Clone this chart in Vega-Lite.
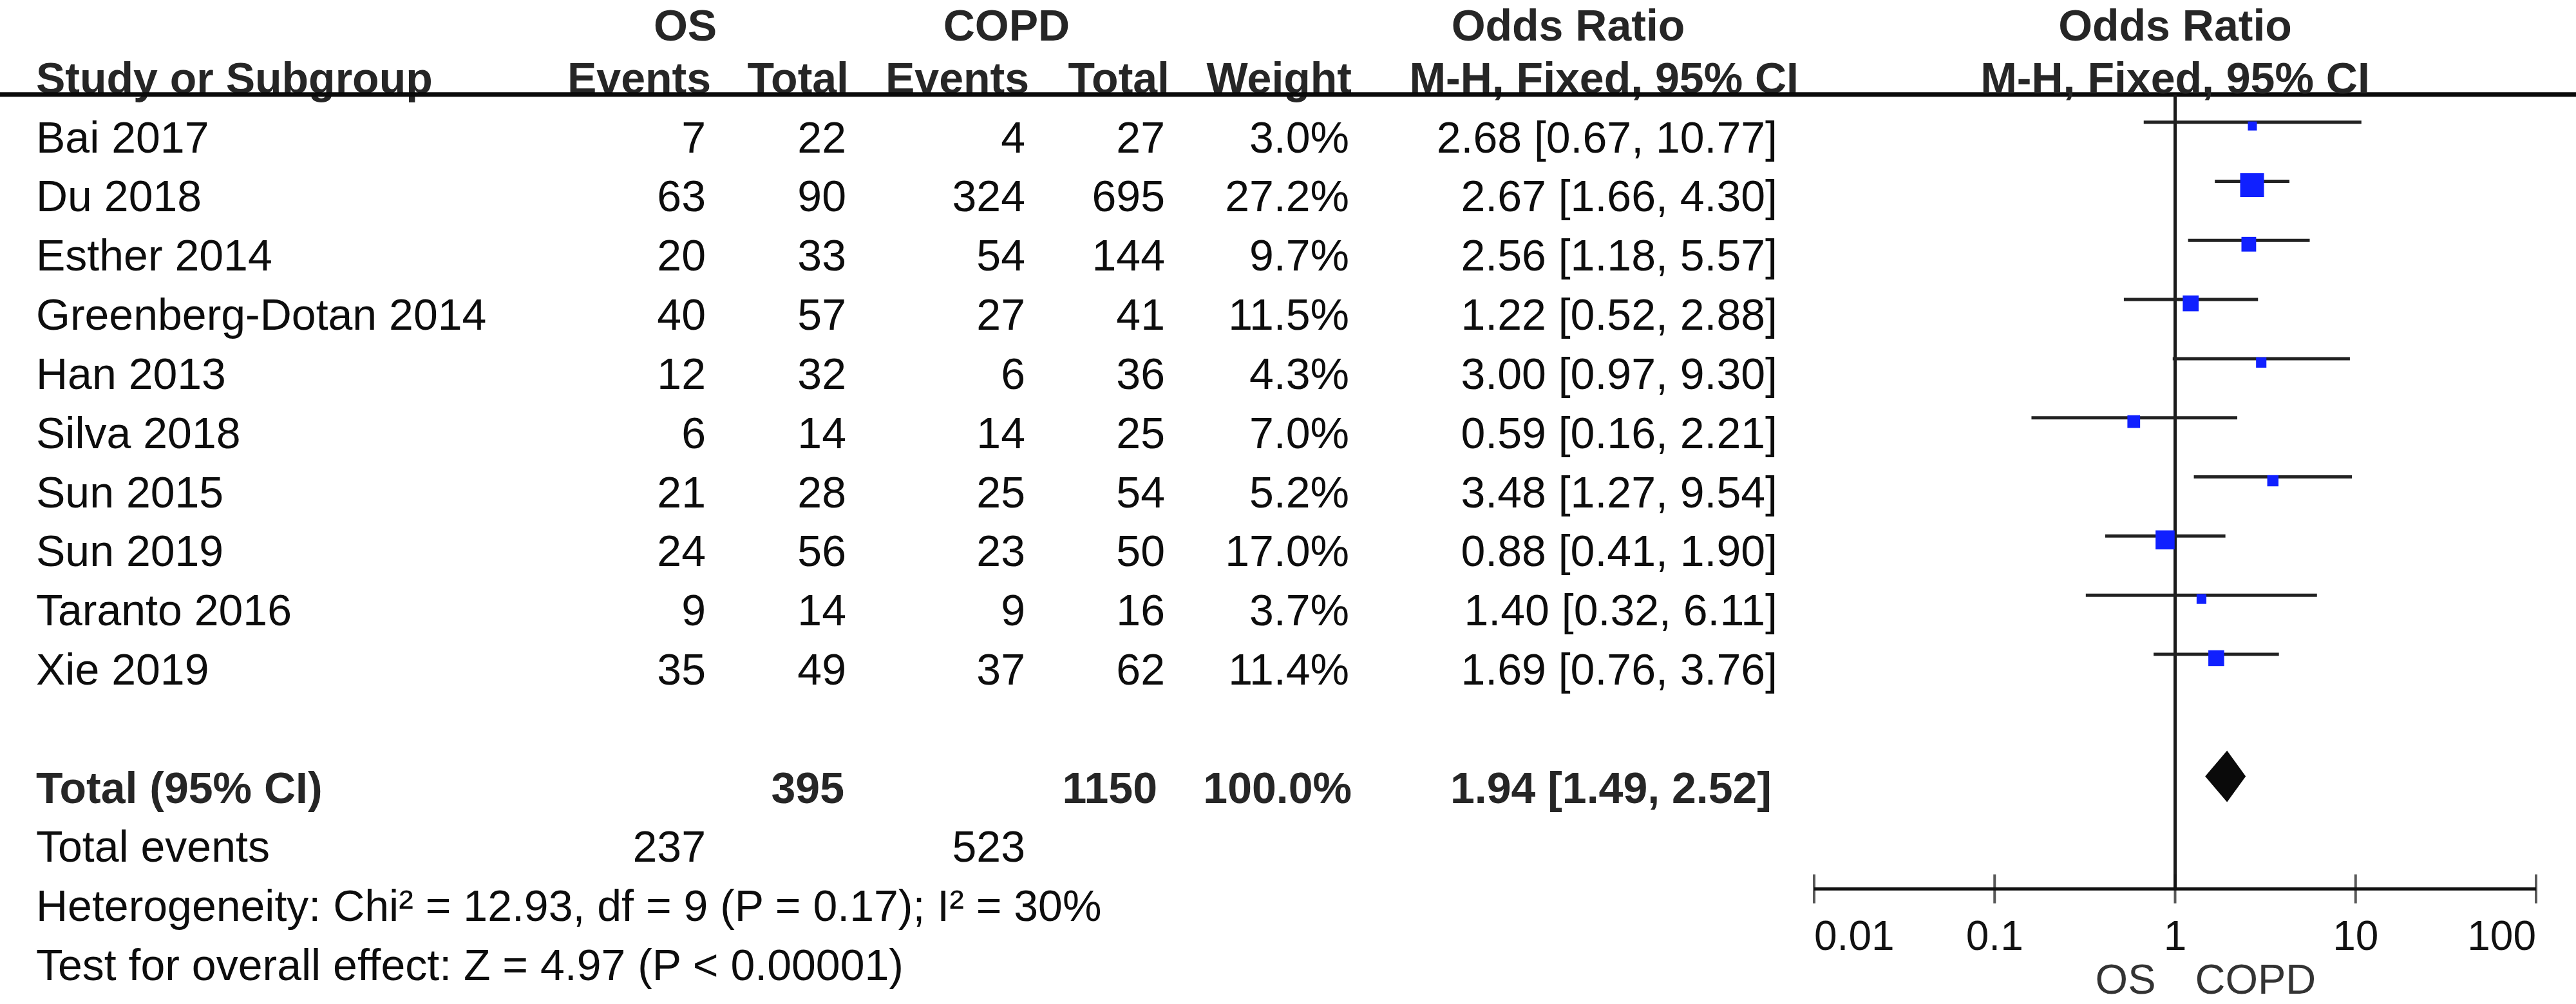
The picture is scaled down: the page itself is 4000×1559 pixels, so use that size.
{
  "$schema": "https://vega.github.io/schema/vega-lite/v6.json",
  "width": 4000,
  "height": 1469,
  "autosize": {"type": "none"},
  "padding": {"left": 0, "right": 0, "top": 53, "bottom": 37},
  "background": "white",
  "config": {
    "view": {"stroke": null},
    "text": {"font": "Liberation Sans", "fontSize": 68, "baseline": "alphabetic", "color": "#0d0d0d"}
  },
  "data": {
    "values": [
      {"key": "Bai 2017", "label": "Bai 2017", "kind": "study", "os_e": 7, "os_n": 22, "copd_e": 4, "copd_n": 27, "weight": 0.030, "or": 2.68, "lo": 0.67, "hi": 10.77, "ci": "2.68 [0.67, 10.77]"},
      {"key": "Du 2018", "label": "Du 2018", "kind": "study", "os_e": 63, "os_n": 90, "copd_e": 324, "copd_n": 695, "weight": 0.272, "or": 2.67, "lo": 1.66, "hi": 4.30, "ci": "2.67 [1.66, 4.30]"},
      {"key": "Esther 2014", "label": "Esther 2014", "kind": "study", "os_e": 20, "os_n": 33, "copd_e": 54, "copd_n": 144, "weight": 0.097, "or": 2.56, "lo": 1.18, "hi": 5.57, "ci": "2.56 [1.18, 5.57]"},
      {"key": "Greenberg-Dotan 2014", "label": "Greenberg-Dotan 2014", "kind": "study", "os_e": 40, "os_n": 57, "copd_e": 27, "copd_n": 41, "weight": 0.115, "or": 1.22, "lo": 0.52, "hi": 2.88, "ci": "1.22 [0.52, 2.88]"},
      {"key": "Han 2013", "label": "Han 2013", "kind": "study", "os_e": 12, "os_n": 32, "copd_e": 6, "copd_n": 36, "weight": 0.043, "or": 3.00, "lo": 0.97, "hi": 9.30, "ci": "3.00 [0.97, 9.30]"},
      {"key": "Silva 2018", "label": "Silva 2018", "kind": "study", "os_e": 6, "os_n": 14, "copd_e": 14, "copd_n": 25, "weight": 0.070, "or": 0.59, "lo": 0.16, "hi": 2.21, "ci": "0.59 [0.16, 2.21]"},
      {"key": "Sun 2015", "label": "Sun 2015", "kind": "study", "os_e": 21, "os_n": 28, "copd_e": 25, "copd_n": 54, "weight": 0.052, "or": 3.48, "lo": 1.27, "hi": 9.54, "ci": "3.48 [1.27, 9.54]"},
      {"key": "Sun 2019", "label": "Sun 2019", "kind": "study", "os_e": 24, "os_n": 56, "copd_e": 23, "copd_n": 50, "weight": 0.170, "or": 0.88, "lo": 0.41, "hi": 1.90, "ci": "0.88 [0.41, 1.90]"},
      {"key": "Taranto 2016", "label": "Taranto 2016", "kind": "study", "os_e": 9, "os_n": 14, "copd_e": 9, "copd_n": 16, "weight": 0.037, "or": 1.40, "lo": 0.32, "hi": 6.11, "ci": "1.40 [0.32, 6.11]"},
      {"key": "Xie 2019", "label": "Xie 2019", "kind": "study", "os_e": 35, "os_n": 49, "copd_e": 37, "copd_n": 62, "weight": 0.114, "or": 1.69, "lo": 0.76, "hi": 3.76, "ci": "1.69 [0.76, 3.76]"},
      {"key": "total", "label": "Total (95% CI)", "kind": "total", "os_n": 395, "copd_n": 1150, "weight": 1.0, "or": 1.94, "lo": 1.49, "hi": 2.52, "ci": "1.94 [1.49, 2.52]"},
      {"key": "events", "label": "Total events", "kind": "events", "os_e": 237, "copd_e": 523},
      {"key": "het", "label": "Heterogeneity: Chi² = 12.93, df = 9 (P = 0.17); I² = 30%", "kind": "note"},
      {"key": "test", "label": "Test for overall effect: Z = 4.97 (P < 0.00001)", "kind": "note"}
    ]
  },
  "encoding": {
    "y": {
      "field": "key", "type": "nominal", "axis": null,
      "scale": {"type": "point", "padding": 0, "domain": ["hdr1", "hdr2", "Bai 2017", "Du 2018", "Esther 2014", "Greenberg-Dotan 2014", "Han 2013", "Silva 2018", "Sun 2015", "Sun 2019", "Taranto 2016", "Xie 2019", "gap", "total", "events", "het", "test"]}
    }
  },
  "resolve": {"scale": {"x": "independent"}},
  "layer": [
    {
      "layer": [
        {"transform": [{"filter": "datum.kind != 'total'"}], "mark": {"type": "text", "align": "left"},
         "encoding": {"x": {"datum": 56, "type": "quantitative", "scale": {"domain": [0, 4000], "nice": false, "zero": false}, "axis": null}, "text": {"field": "label"}}},
        {"transform": [{"filter": "datum.kind == 'total'"}], "mark": {"type": "text", "align": "left", "fontWeight": "bold", "color": "#262626"},
         "encoding": {"x": {"datum": 56, "type": "quantitative", "scale": {"domain": [0, 4000], "nice": false, "zero": false}, "axis": null}, "text": {"field": "label"}}},
        {"transform": [{"filter": "isValid(datum.os_e)"}], "mark": {"type": "text", "align": "right"},
         "encoding": {"x": {"datum": 1096, "type": "quantitative", "scale": {"domain": [0, 4000], "nice": false, "zero": false}, "axis": null}, "text": {"field": "os_e", "type": "quantitative", "format": "d"}}},
        {"transform": [{"filter": "datum.kind == 'study'"}], "mark": {"type": "text", "align": "right"},
         "encoding": {"x": {"datum": 1314, "type": "quantitative", "scale": {"domain": [0, 4000], "nice": false, "zero": false}, "axis": null}, "text": {"field": "os_n", "type": "quantitative", "format": "d"}}},
        {"transform": [{"filter": "datum.kind == 'total'"}], "mark": {"type": "text", "align": "right", "fontWeight": "bold", "color": "#262626"},
         "encoding": {"x": {"datum": 1311, "type": "quantitative", "scale": {"domain": [0, 4000], "nice": false, "zero": false}, "axis": null}, "text": {"field": "os_n", "type": "quantitative", "format": "d"}}},
        {"transform": [{"filter": "isValid(datum.copd_e)"}], "mark": {"type": "text", "align": "right"},
         "encoding": {"x": {"datum": 1592, "type": "quantitative", "scale": {"domain": [0, 4000], "nice": false, "zero": false}, "axis": null}, "text": {"field": "copd_e", "type": "quantitative", "format": "d"}}},
        {"transform": [{"filter": "datum.kind == 'study'"}], "mark": {"type": "text", "align": "right"},
         "encoding": {"x": {"datum": 1809, "type": "quantitative", "scale": {"domain": [0, 4000], "nice": false, "zero": false}, "axis": null}, "text": {"field": "copd_n", "type": "quantitative", "format": "d"}}},
        {"transform": [{"filter": "datum.kind == 'total'"}], "mark": {"type": "text", "align": "right", "fontWeight": "bold", "color": "#262626"},
         "encoding": {"x": {"datum": 1797, "type": "quantitative", "scale": {"domain": [0, 4000], "nice": false, "zero": false}, "axis": null}, "text": {"field": "copd_n", "type": "quantitative", "format": "d"}}},
        {"transform": [{"filter": "datum.kind == 'study'"}], "mark": {"type": "text", "align": "right"},
         "encoding": {"x": {"datum": 2095, "type": "quantitative", "scale": {"domain": [0, 4000], "nice": false, "zero": false}, "axis": null}, "text": {"field": "weight", "type": "quantitative", "format": ".1%"}}},
        {"transform": [{"filter": "datum.kind == 'total'"}], "mark": {"type": "text", "align": "right", "fontWeight": "bold", "color": "#262626"},
         "encoding": {"x": {"datum": 2099, "type": "quantitative", "scale": {"domain": [0, 4000], "nice": false, "zero": false}, "axis": null}, "text": {"field": "weight", "type": "quantitative", "format": ".1%"}}},
        {"transform": [{"filter": "datum.kind == 'study'"}], "mark": {"type": "text", "align": "right"},
         "encoding": {"x": {"datum": 2760, "type": "quantitative", "scale": {"domain": [0, 4000], "nice": false, "zero": false}, "axis": null}, "text": {"field": "ci"}}},
        {"transform": [{"filter": "datum.kind == 'total'"}], "mark": {"type": "text", "align": "right", "fontWeight": "bold", "color": "#262626"},
         "encoding": {"x": {"datum": 2751, "type": "quantitative", "scale": {"domain": [0, 4000], "nice": false, "zero": false}, "axis": null}, "text": {"field": "ci"}}},
        {"data": {"values": [{"t": "OS"}]}, "mark": {"type": "text", "align": "center", "fontWeight": "bold", "color": "#262626", "dy": 10},
         "encoding": {"x": {"datum": 1064, "type": "quantitative", "scale": {"domain": [0, 4000], "nice": false, "zero": false}, "axis": null}, "y": {"datum": "hdr1", "type": "nominal"}, "text": {"field": "t"}}},
        {"data": {"values": [{"t": "COPD"}]}, "mark": {"type": "text", "align": "center", "fontWeight": "bold", "color": "#262626", "dy": 10},
         "encoding": {"x": {"datum": 1563, "type": "quantitative", "scale": {"domain": [0, 4000], "nice": false, "zero": false}, "axis": null}, "y": {"datum": "hdr1", "type": "nominal"}, "text": {"field": "t"}}},
        {"data": {"values": [{"t": "Odds Ratio"}]}, "mark": {"type": "text", "align": "center", "fontWeight": "bold", "color": "#262626", "dy": 10},
         "encoding": {"x": {"datum": 2435, "type": "quantitative", "scale": {"domain": [0, 4000], "nice": false, "zero": false}, "axis": null}, "y": {"datum": "hdr1", "type": "nominal"}, "text": {"field": "t"}}},
        {"data": {"values": [{"t": "Study or Subgroup"}]}, "mark": {"type": "text", "align": "left", "fontWeight": "bold", "color": "#262626"},
         "encoding": {"x": {"datum": 56, "type": "quantitative", "scale": {"domain": [0, 4000], "nice": false, "zero": false}, "axis": null}, "y": {"datum": "hdr2", "type": "nominal"}, "text": {"field": "t"}}},
        {"data": {"values": [{"t": "Events"}]}, "mark": {"type": "text", "align": "right", "fontWeight": "bold", "color": "#262626"},
         "encoding": {"x": {"datum": 1104, "type": "quantitative", "scale": {"domain": [0, 4000], "nice": false, "zero": false}, "axis": null}, "y": {"datum": "hdr2", "type": "nominal"}, "text": {"field": "t"}}},
        {"data": {"values": [{"t": "Total"}]}, "mark": {"type": "text", "align": "right", "fontWeight": "bold", "color": "#262626"},
         "encoding": {"x": {"datum": 1318, "type": "quantitative", "scale": {"domain": [0, 4000], "nice": false, "zero": false}, "axis": null}, "y": {"datum": "hdr2", "type": "nominal"}, "text": {"field": "t"}}},
        {"data": {"values": [{"t": "Events"}]}, "mark": {"type": "text", "align": "right", "fontWeight": "bold", "color": "#262626"},
         "encoding": {"x": {"datum": 1598, "type": "quantitative", "scale": {"domain": [0, 4000], "nice": false, "zero": false}, "axis": null}, "y": {"datum": "hdr2", "type": "nominal"}, "text": {"field": "t"}}},
        {"data": {"values": [{"t": "Total"}]}, "mark": {"type": "text", "align": "right", "fontWeight": "bold", "color": "#262626"},
         "encoding": {"x": {"datum": 1816, "type": "quantitative", "scale": {"domain": [0, 4000], "nice": false, "zero": false}, "axis": null}, "y": {"datum": "hdr2", "type": "nominal"}, "text": {"field": "t"}}},
        {"data": {"values": [{"t": "Weight"}]}, "mark": {"type": "text", "align": "right", "fontWeight": "bold", "color": "#262626"},
         "encoding": {"x": {"datum": 2099, "type": "quantitative", "scale": {"domain": [0, 4000], "nice": false, "zero": false}, "axis": null}, "y": {"datum": "hdr2", "type": "nominal"}, "text": {"field": "t"}}},
        {"data": {"values": [{"t": "M-H, Fixed, 95% CI"}]}, "mark": {"type": "text", "align": "right", "fontWeight": "bold", "color": "#262626"},
         "encoding": {"x": {"datum": 2793, "type": "quantitative", "scale": {"domain": [0, 4000], "nice": false, "zero": false}, "axis": null}, "y": {"datum": "hdr2", "type": "nominal"}, "text": {"field": "t"}}},
        {"data": {"values": [{"t": "line"}]}, "mark": {"type": "rule", "strokeWidth": 7, "color": "#0a0a0a", "yOffset": 2},
         "encoding": {"y": {"datum": "hdr2", "type": "nominal"}}}
      ]
    },
    {
      "layer": [
        {"data": {"values": [{"t": "ref"}]}, "mark": {"type": "rule", "strokeWidth": 5, "color": "#1a1a1a", "yOffset": 2, "y2Offset": -50},
         "encoding": {"x": {"datum": 1, "type": "quantitative", "scale": {"type": "log", "domain": [0.01, 100], "range": [2817, 3938], "nice": false}, "axis": null},
                      "y": {"datum": "hdr2", "type": "nominal"}, "y2": {"datum": "het"}}},
        {"transform": [{"filter": "datum.kind == 'study'"}], "mark": {"type": "rule", "strokeWidth": 5, "color": "#222222", "yOffset": -47},
         "encoding": {"x": {"field": "lo", "type": "quantitative", "scale": {"type": "log", "domain": [0.01, 100], "range": [2817, 3938], "nice": false}, "axis": null},
                      "x2": {"field": "hi"}}},
        {"transform": [{"filter": "datum.kind == 'study'"}], "mark": {"type": "point", "shape": "square", "filled": true, "opacity": 1, "color": "#1020ff", "yOffset": -41},
         "encoding": {"x": {"field": "or", "type": "quantitative", "scale": {"type": "log", "domain": [0.01, 100], "range": [2817, 3938], "nice": false}, "axis": null},
                      "size": {"field": "weight", "type": "quantitative", "scale": {"domain": [0.03, 0.272], "range": [196, 1369], "zero": false}, "legend": null}}},
        {"transform": [{"filter": "datum.kind == 'total'"}], "mark": {"type": "point", "shape": "M0,-1L0.725,0L0,1L-0.85,0Z", "size": 6400, "filled": true, "opacity": 1, "color": "#0a0a0a", "yOffset": -41},
         "encoding": {"x": {"field": "or", "type": "quantitative", "scale": {"type": "log", "domain": [0.01, 100], "range": [2817, 3938], "nice": false}, "axis": null}}},
        {"data": {"values": [{"t": "axis"}]}, "mark": {"type": "rule", "strokeWidth": 5, "color": "#111111", "yOffset": -50},
         "encoding": {"x": {"datum": 0.01, "type": "quantitative", "scale": {"type": "log", "domain": [0.01, 100], "range": [2817, 3938], "nice": false}, "axis": null},
                      "x2": {"datum": 100}, "y": {"datum": "het", "type": "nominal"}}},
        {"data": {"values": [{"tick": 0.01}, {"tick": 0.1}, {"tick": 1}, {"tick": 10}, {"tick": 100}]},
         "mark": {"type": "tick", "thickness": 4, "size": 45, "color": "#111111", "yOffset": -50},
         "encoding": {"x": {"field": "tick", "type": "quantitative", "scale": {"type": "log", "domain": [0.01, 100], "range": [2817, 3938], "nice": false}, "axis": null},
                      "y": {"datum": "het", "type": "nominal"}}},
        {"data": {"values": [{"tick": 0.01}]}, "mark": {"type": "text", "align": "left", "dy": -47, "fontSize": 64, "color": "#111111"},
         "encoding": {"x": {"field": "tick", "type": "quantitative", "scale": {"type": "log", "domain": [0.01, 100], "range": [2817, 3938], "nice": false}, "axis": null},
                      "y": {"datum": "test", "type": "nominal"}, "text": {"field": "tick", "type": "quantitative", "format": "~g"}}},
        {"data": {"values": [{"tick": 0.1}, {"tick": 1}, {"tick": 10}]}, "mark": {"type": "text", "align": "center", "dy": -47, "fontSize": 64, "color": "#111111"},
         "encoding": {"x": {"field": "tick", "type": "quantitative", "scale": {"type": "log", "domain": [0.01, 100], "range": [2817, 3938], "nice": false}, "axis": null},
                      "y": {"datum": "test", "type": "nominal"}, "text": {"field": "tick", "type": "quantitative", "format": "~g"}}},
        {"data": {"values": [{"tick": 100}]}, "mark": {"type": "text", "align": "right", "dy": -47, "fontSize": 64, "color": "#111111"},
         "encoding": {"x": {"field": "tick", "type": "quantitative", "scale": {"type": "log", "domain": [0.01, 100], "range": [2817, 3938], "nice": false}, "axis": null},
                      "y": {"datum": "test", "type": "nominal"}, "text": {"field": "tick", "type": "quantitative", "format": "~g"}}},
        {"data": {"values": [{"t": "Odds Ratio"}]}, "mark": {"type": "text", "align": "center", "fontWeight": "bold", "color": "#262626", "dy": 10},
         "encoding": {"x": {"datum": 1, "type": "quantitative", "scale": {"type": "log", "domain": [0.01, 100], "range": [2817, 3938], "nice": false}, "axis": null},
                      "y": {"datum": "hdr1", "type": "nominal"}, "text": {"field": "t"}}},
        {"data": {"values": [{"t": "M-H, Fixed, 95% CI"}]}, "mark": {"type": "text", "align": "center", "fontWeight": "bold", "color": "#262626"},
         "encoding": {"x": {"datum": 1, "type": "quantitative", "scale": {"type": "log", "domain": [0.01, 100], "range": [2817, 3938], "nice": false}, "axis": null},
                      "y": {"datum": "hdr2", "type": "nominal"}, "text": {"field": "t"}}},
        {"data": {"values": [{"t": "OS"}]}, "mark": {"type": "text", "align": "right", "dx": -30, "dy": 21, "fontSize": 65, "color": "#333333"},
         "encoding": {"x": {"datum": 1, "type": "quantitative", "scale": {"type": "log", "domain": [0.01, 100], "range": [2817, 3938], "nice": false}, "axis": null},
                      "y": {"datum": "test", "type": "nominal"}, "text": {"field": "t"}}},
        {"data": {"values": [{"t": "COPD"}]}, "mark": {"type": "text", "align": "left", "dx": 31, "dy": 21, "fontSize": 65, "color": "#333333"},
         "encoding": {"x": {"datum": 1, "type": "quantitative", "scale": {"type": "log", "domain": [0.01, 100], "range": [2817, 3938], "nice": false}, "axis": null},
                      "y": {"datum": "test", "type": "nominal"}, "text": {"field": "t"}}}
      ]
    }
  ]
}
